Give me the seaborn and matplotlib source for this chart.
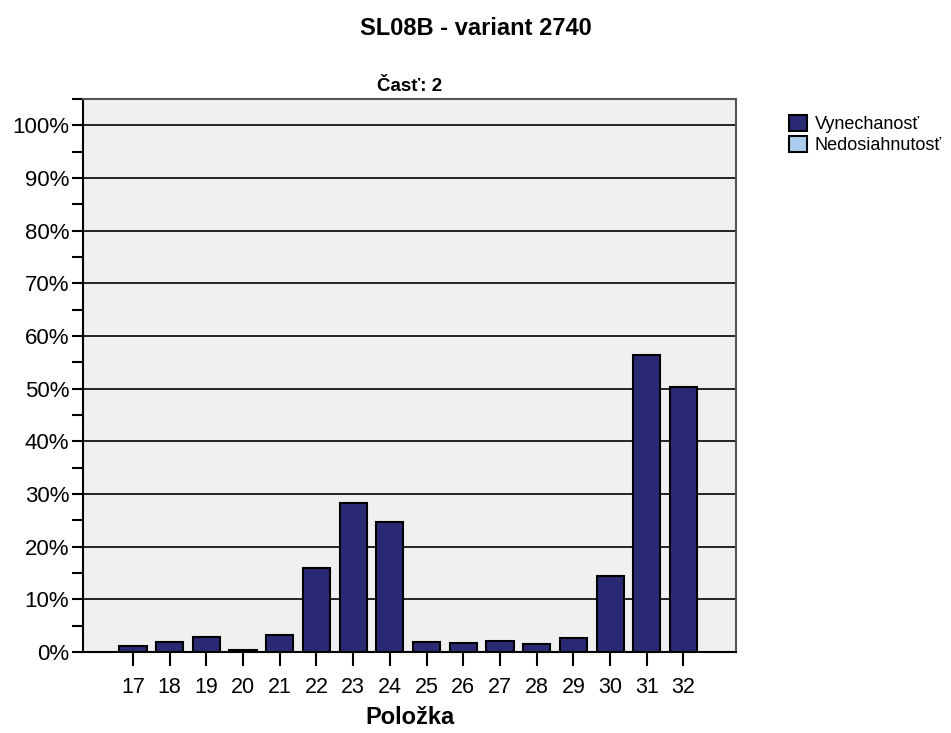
import matplotlib
matplotlib.use("Agg")
import matplotlib.pyplot as plt
import matplotlib.patches as mpatches
from matplotlib.ticker import MultipleLocator, FuncFormatter
import seaborn as sns
import pandas as pd

items = ["17", "18", "19", "20", "21", "22", "23", "24", "25", "26", "27", "28", "29", "30", "31", "32"]
vynechanost = [1.2, 1.9, 2.8, 0.3, 3.3, 15.9, 28.2, 24.7, 1.9, 1.7, 2.1, 1.5, 2.6, 14.5, 56.4, 50.4]
series_names = ["Vynechanosť", "Nedosiahnutosť"]
series_colors = ["#292A73", "#AACDEE"]

sns.set_style("white")
plt.rcParams["font.family"] = ["Liberation Sans", "DejaVu Sans"]
plt.rcParams["text.color"] = "black"
plt.rcParams["axes.labelcolor"] = "black"
plt.rcParams["xtick.color"] = "black"
plt.rcParams["ytick.color"] = "black"

fig = plt.figure(figsize=(9.51, 7.33), dpi=100)
ax = fig.add_axes([0.0873, 0.1105, 0.6866, 0.7544])

df = pd.DataFrame({"item": items, "value": vynechanost})
sns.barplot(data=df, x="item", y="value", color=series_colors[0], saturation=1,
            width=0.74, edgecolor="black", linewidth=1.5, ax=ax, zorder=3)

ax.set_facecolor("#F0F0F0")
ax.set_ylim(0, 105)
ax.set_xlim(-1.36, 16.43)
ax.yaxis.set_major_locator(MultipleLocator(10))
ax.yaxis.set_minor_locator(MultipleLocator(5))
ax.yaxis.set_major_formatter(FuncFormatter(lambda v, p: f"{int(round(v))}%"))
ax.grid(axis="y", which="major", color="black", linewidth=1.2, zorder=1)
ax.set_axisbelow(True)
ax.tick_params(axis="y", which="both", direction="out", length=8, width=1.5,
               labelsize=16, left=True, pad=2)
ax.tick_params(axis="x", direction="out", length=10, width=1.5, labelsize=15.5,
               bottom=True, pad=8)

for side in ["left", "bottom"]:
    ax.spines[side].set_color("black")
    ax.spines[side].set_linewidth(1.5)
for side in ["top", "right"]:
    ax.spines[side].set_visible(True)
    ax.spines[side].set_color("#555555")
    ax.spines[side].set_linewidth(1.5)

ax.set_ylabel("")
ax.set_xlabel("Položka", fontsize=17, fontweight="bold")
ax.xaxis.set_label_coords(0.5, -0.098)
ax.set_title("Časť: 2", fontsize=13.5, fontweight="bold", pad=6)
fig.suptitle("SL08B - variant 2740", fontsize=17, fontweight="bold", y=0.977)

handles = [mpatches.Patch(facecolor=c, edgecolor="black", linewidth=1.5, label=n)
           for n, c in zip(series_names, series_colors)]
fig.legend(handles=handles, loc="upper left", bbox_to_anchor=(0.830, 0.843),
           frameon=False, fontsize=13, handlelength=1.0, handleheight=1.0,
           handletextpad=0.4, labelspacing=0.12, borderaxespad=0,
           borderpad=0)

fig.savefig("out.png", dpi=100)
